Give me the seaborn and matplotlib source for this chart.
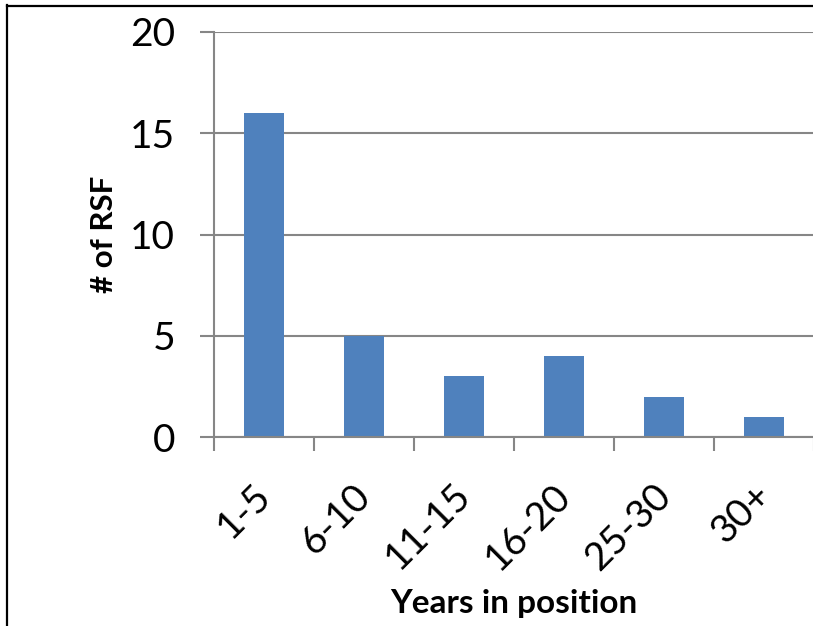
import numpy as np
import pandas as pd
import matplotlib
matplotlib.use("Agg")
import matplotlib.pyplot as plt
import matplotlib.transforms as mtransforms
from matplotlib.lines import Line2D
from matplotlib.ticker import FixedLocator
import seaborn as sns

# Data
categories = ["1-5", "6-10", "11-15", "16-20", "25-30", "30+"]
counts = [16, 5, 3, 4, 2, 1]
y_ticks = [0, 5, 10, 15, 20]

BAR_COLOR = "#4F81BD"
GRID_COLOR = "#868686"

sns.set_theme(style="white")
plt.rcParams["font.family"] = ["Lato", "DejaVu Sans"]

W, H = 813, 626
fig = plt.figure(figsize=(W / 100, H / 100), dpi=100)
fig.patch.set_facecolor("white")
ax = fig.add_axes([214 / W, 1 - 437 / H, 600 / W, 405 / H])

df = pd.DataFrame({"years": categories, "n": counts})
sns.barplot(data=df, x="years", y="n", color=BAR_COLOR, saturation=1,
            width=0.4, linewidth=0, ax=ax)

ax.set_xlim(-0.5, len(categories) - 0.5)
ax.set_ylim(0, 20)
ax.set_yticks(y_ticks)
ax.set_yticklabels([str(t) for t in y_ticks])

# Horizontal gridlines behind bars
ax.set_axisbelow(True)
ax.yaxis.grid(True, color=GRID_COLOR, linewidth=1.5)
ax.xaxis.grid(False)

# Spines
for side in ("top", "right"):
    ax.spines[side].set_visible(False)
for side in ("left", "bottom"):
    ax.spines[side].set_color(GRID_COLOR)
    ax.spines[side].set_linewidth(1.5)

# Ticks: x tick marks sit between categories
ax.xaxis.set_minor_locator(FixedLocator(np.arange(-0.5, len(categories), 1.0)))
ax.tick_params(axis="x", which="major", length=0, pad=38, labelsize=28, labelcolor="black")
ax.tick_params(axis="x", which="minor", direction="out", length=10, width=1.5,
               color=GRID_COLOR, bottom=True)
ax.tick_params(axis="y", which="major", direction="out", length=10, width=1.5,
               color=GRID_COLOR, left=True, pad=18, labelsize=28, labelcolor="black")

shift = mtransforms.ScaledTranslation(1 / 100, 0, fig.dpi_scale_trans)
for lbl in ax.get_xticklabels():
    lbl.set_rotation(45)
    lbl.set_ha("right")
    lbl.set_va("center")
    lbl.set_rotation_mode("anchor")
    lbl.set_transform(lbl.get_transform() + shift)

# Axis titles
ax.set_xlabel("Years in position", fontsize=24, fontweight="bold", color="black",
              va="baseline")
ax.xaxis.set_label_coords(0.5, (437 - 613) / 405)
ax.set_ylabel("# of RSF", fontsize=22.5, fontweight="bold", color="black",
              va="baseline")
ax.yaxis.set_label_coords((113 - 214) / 600, 0.5)

# Chart frame (left and top edges)
fig.add_artist(Line2D([7 / W, 7 / W], [0, 1 - 5 / H], transform=fig.transFigure,
                      color="black", linewidth=1.6, solid_capstyle="projecting"))
fig.add_artist(Line2D([7 / W, 1], [1 - 5.5 / H, 1 - 5.5 / H], transform=fig.transFigure,
                      color="black", linewidth=1.6, solid_capstyle="projecting"))

fig.savefig("out.png", dpi=100, facecolor="white")
